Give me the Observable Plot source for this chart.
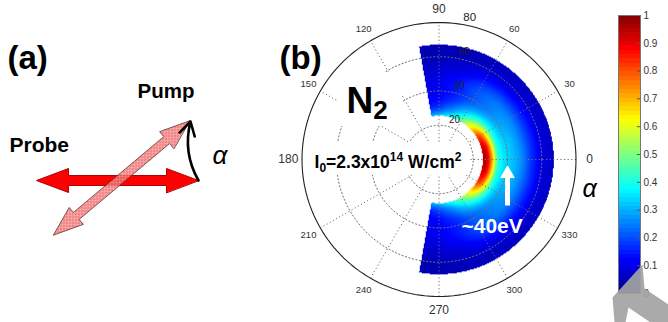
<!DOCTYPE html>
<html><head><meta charset="utf-8">
<script src="https://cdn.jsdelivr.net/npm/d3@7"></script>
<script src="https://cdn.jsdelivr.net/npm/@observablehq/plot@0.6"></script>
<style>
html,body{margin:0;padding:0;background:#fff;}
#wrap{position:relative;width:668px;height:322px;overflow:hidden;background:#fff;}
#wrap svg{position:absolute;top:0;}
</style></head><body><div id="wrap"></div>
<script>
// ---------- data ----------
const energies = [25.5, 27, 29, 31, 33, 35, 38, 41, 44, 47, 50, 54, 58, 62, 67]; // eV (radius)
const angles = [0, 15, 30, 45, 60, 75, 90, 100]; // |alpha| in degrees
const yield0   = [0.93,0.97,0.88,0.72,0.52,0.40,0.35,0.33,0.31,0.28,0.24,0.17,0.12,0.08,0.06];
const yield15  = [0.90,0.94,0.85,0.69,0.50,0.39,0.34,0.32,0.30,0.27,0.23,0.17,0.12,0.08,0.06];
const yield30  = [0.80,0.82,0.74,0.60,0.46,0.37,0.31,0.29,0.28,0.26,0.22,0.16,0.11,0.07,0.05];
const yield45  = [0.64,0.63,0.56,0.47,0.39,0.33,0.27,0.25,0.25,0.24,0.21,0.15,0.10,0.07,0.05];
const yield60  = [0.50,0.46,0.40,0.34,0.30,0.26,0.22,0.21,0.21,0.20,0.18,0.13,0.09,0.06,0.05];
const yield75  = [0.40,0.34,0.28,0.24,0.21,0.18,0.16,0.15,0.15,0.14,0.12,0.09,0.07,0.05,0.04];
const yield90  = [0.34,0.27,0.21,0.17,0.15,0.13,0.12,0.11,0.11,0.10,0.09,0.07,0.05,0.04,0.04];
const yield100 = [0.32,0.25,0.19,0.15,0.13,0.12,0.11,0.10,0.10,0.09,0.08,0.06,0.05,0.04,0.04];
const angleTicks = [0, 30, 60, 90, 120, 150, 180, 210, 240, 270, 300, 330];
const radialTicks = [20, 40, 60, 80];
const colorbarTicks = [0, 0.1, 0.2, 0.3, 0.4, 0.5, 0.6, 0.7, 0.8, 0.9, 1];
const pumpAngle = 40; // alpha between pump and probe polarisations (schematic)
const markerEnergy = 40; // "~40eV"

// ---------- helpers ----------
const rows = [yield0, yield15, yield30, yield45, yield60, yield75, yield90, yield100];
const rMax = 80;
const jet = {type: "linear", domain: [0, 0.125, 0.375, 0.625, 0.875, 1],
  range: ["#00008f", "#0000ff", "#00ffff", "#ffff00", "#ff0000", "#800000"], clamp: true};
function yieldAt(E, th) {
  const a = Math.abs(th), nE = energies.length;
  if (E < energies[0] || E > energies[nE - 1] || a > angles[angles.length - 1]) return NaN;
  let i = Math.max(0, Math.min(angles.length - 2, d3.bisectRight(angles, a) - 1));
  let j = Math.max(0, Math.min(nE - 2, d3.bisectRight(energies, E) - 1));
  const ta = (a - angles[i]) / (angles[i + 1] - angles[i]);
  const te = (E - energies[j]) / (energies[j + 1] - energies[j]);
  const v0 = rows[i][j] * (1 - te) + rows[i][j + 1] * te;
  const v1 = rows[i + 1][j] * (1 - te) + rows[i + 1][j + 1] * te;
  return v0 * (1 - ta) + v1 * ta;
}
const rad = d => d * Math.PI / 180;
const FONT = "Liberation Sans, Arial, Helvetica, sans-serif";

// pixel placement of the polar frame
const k = 137 / rMax, cx = 438.5, cy = 159;
const X = px => (px - cx) / k, Y = py => (cy - py) / k;

function rich(svg, content, parts) {
  d3.select(svg).selectAll("text").filter(function () { return this.textContent === content; })
    .each(function () {
      const el = this; el.textContent = "";
      let prev = 0;
      for (const [t, shift, size] of parts) {
        const ts = document.createElementNS("http://www.w3.org/2000/svg", "tspan");
        ts.textContent = t;
        ts.setAttribute("dy", (shift - prev) + "px");
        if (size) ts.setAttribute("font-size", size + "px");
        prev = shift;
        el.appendChild(ts);
      }
    });
}

// ---------- panel (b): polar map ----------
const circlePts = [];
for (const r of radialTicks) for (let t = 0; t <= 360; t += 2) circlePts.push({r, x: r * Math.cos(rad(t)), y: r * Math.sin(rad(t))});
const spokes = angleTicks.filter(a => a > 0 && a <= 180);

const plotB = Plot.plot({
  width: 668, height: 322, margin: 0,
  x: {domain: [X(0), X(668)], axis: null},
  y: {domain: [Y(322), Y(0)], axis: null},
  color: jet,
  style: {background: "transparent", overflow: "visible"},
  marks: [
    Plot.raster({fill: (x, y) => yieldAt(Math.hypot(x, y), Math.atan2(y, x) * 180 / Math.PI),
      x1: -20, x2: 70, y1: -70, y2: 70, pixelSize: 1, imageRendering: "auto"}),
    Plot.link(spokes, {x1: a => -rMax * Math.cos(rad(a)), y1: a => -rMax * Math.sin(rad(a)),
      x2: a => rMax * Math.cos(rad(a)), y2: a => rMax * Math.sin(rad(a)),
      stroke: "#707070", strokeWidth: 1, strokeDasharray: "1.2,2.4"}),
    Plot.line(circlePts.filter(d => d.r < rMax), {x: "x", y: "y", z: "r", stroke: "#707070", strokeWidth: 1, strokeDasharray: "1.2,2.4"}),
    Plot.line(circlePts.filter(d => d.r === rMax), {x: "x", y: "y", stroke: "#222", strokeWidth: 1.1}),
    // white label boxes
    Plot.rect([{x1: X(337), x2: X(402), y1: Y(126), y2: Y(72)}, {x1: X(304), x2: X(469), y1: Y(175), y2: Y(142)}],
      {x1: "x1", x2: "x2", y1: "y1", y2: "y2", fill: "white"}),
    // angle tick labels
    Plot.text(angleTicks, {x: a => 1.1 * rMax * Math.cos(rad(a)), y: a => 1.1 * rMax * Math.sin(rad(a)),
      text: a => String(a), fontSize: a => (a % 90 === 0 ? 12 : 9.5), fill: "#333", fontFamily: FONT, lineAnchor: "middle"}),
    // radial tick labels
    Plot.text(radialTicks, {x: r => (r + 1) * Math.cos(rad(82)), y: r => (r + 1) * Math.sin(rad(82)),
      text: r => String(r), dx: 5, dy: -1, textAnchor: "start", lineAnchor: "bottom",
      fontSize: r => (r === rMax ? 11.5 : 10), fill: "#222", fontFamily: FONT}),
    // titles
    Plot.text(["(b)"], {x: X(279), y: Y(68), text: d => d, textAnchor: "start", lineAnchor: "bottom", fontSize: 33, fontWeight: "bold", fontFamily: FONT, fill: "black"}),
    Plot.text(["N2"], {x: X(346), y: Y(112), text: d => d, textAnchor: "start", lineAnchor: "bottom", fontSize: 37, fontWeight: "bold", fontFamily: FONT, fill: "black"}),
    Plot.text(["I0=2.3x1014 W/cm2"], {x: X(314), y: Y(167), text: d => d, textAnchor: "start", lineAnchor: "bottom", fontSize: 17.5, fontWeight: "bold", fontFamily: FONT, fill: "black"}),
    // ~40 eV marker
    Plot.link([markerEnergy], {x1: d => d, x2: d => d, y1: Y(205), y2: Y(176), stroke: "white", strokeWidth: 5}),
    Plot.dot([markerEnergy], {x: d => d, y: Y(173.2), symbol: "triangle", r: 5, fill: "white", stroke: "white", strokeWidth: 1}),
    Plot.text(["~" + markerEnergy + "eV"], {x: X(461), y: Y(232), text: d => d, textAnchor: "start", lineAnchor: "bottom", fontSize: 21, fontWeight: "bold", fontFamily: FONT, fill: "white"}),
    Plot.text(["α"], {x: X(582), y: Y(196), text: d => d, textAnchor: "start", lineAnchor: "bottom", fontSize: 25, fontStyle: "italic", fontFamily: FONT, fill: "black"})
  ]
});
rich(plotB, "N2", [["N", 0, 37], ["2", 6, 26]]);
rich(plotB, "I0=2.3x1014 W/cm2", [["I", 0, 17.5], ["0", 4, 12], ["=2.3x10", 0, 17.5], ["14", -7, 12], [" W/cm", 0, 17.5], ["2", -7, 12]]);
plotB.style.left = "0px";
document.getElementById("wrap").appendChild(plotB);

// ---------- panel (a): schematic ----------
function doubleArrow(c, len, angle, shaft, headLen, headHalf) {
  const h = len / 2, local = [[h, 0], [h - headLen, headHalf], [h - headLen, shaft], [-h + headLen, shaft], [-h + headLen, headHalf], [-h, 0],
    [-h + headLen, -headHalf], [-h + headLen, -shaft], [h - headLen, -shaft], [h - headLen, -headHalf]];
  const ca = Math.cos(rad(angle)), sa = Math.sin(rad(angle));
  return local.map(([u, v]) => ({x: c[0] + u * ca - v * sa, y: c[1] - (u * sa + v * ca)}));
}
const probePts = doubleArrow([117, 180], 162, 0, 5, 32, 12);
const pumpPts = doubleArrow([121, 177.5], 178, pumpAngle, 4.5, 30, 11);
const plotA = Plot.plot({
  width: 260, height: 322, margin: 0,
  x: {domain: [0, 260], axis: null},
  y: {domain: [322, 0], axis: null},
  style: {background: "transparent", overflow: "visible"},
  marks: [
    Plot.line(probePts, {x: "x", y: "y", fill: "#ff0000", stroke: "#b00000", strokeWidth: 1, curve: "linear-closed"}),
    Plot.line(pumpPts, {x: "x", y: "y", fill: "url(#hatch)", fillOpacity: 0.82, stroke: "#5a3030", strokeWidth: 0.8, curve: "linear-closed"}),
    Plot.arrow([{x1: 198, y1: 180, x2: 190, y2: 121}], {x1: "x1", y1: "y1", x2: "x2", y2: "y2", bend: 22, stroke: "black", strokeWidth: 2.6, headLength: 9}),
    Plot.text(["(a)"], {x: 7, y: 68, text: d => d, textAnchor: "start", lineAnchor: "bottom", fontSize: 33, fontWeight: "bold", fontFamily: FONT, fill: "black"}),
    Plot.text(["Pump"], {x: 137, y: 97, text: d => d, textAnchor: "start", lineAnchor: "bottom", fontSize: 20.5, fontWeight: "bold", fontFamily: FONT, fill: "black"}),
    Plot.text(["Probe"], {x: 9, y: 151, text: d => d, textAnchor: "start", lineAnchor: "bottom", fontSize: 21, fontWeight: "bold", fontFamily: FONT, fill: "black"}),
    Plot.text(["α"], {x: 212, y: 163, text: d => d, textAnchor: "start", lineAnchor: "bottom", fontSize: 26, fontStyle: "italic", fontFamily: FONT, fill: "black"})
  ]
});
{
  const defs = d3.select(plotA).insert("defs", ":first-child");
  const pat = defs.append("pattern").attr("id", "hatch").attr("width", 3).attr("height", 3).attr("patternUnits", "userSpaceOnUse");
  pat.append("rect").attr("width", 3).attr("height", 3).attr("fill", "#ffa4a4");
  pat.append("path").attr("d", "M0,0.5H3M0.5,0V3").attr("stroke", "#e25050").attr("stroke-width", 0.8);
}
plotA.style.left = "0px";
document.getElementById("wrap").appendChild(plotA);

// ---------- colour bar ----------
const bands = d3.range(64);
const plotC = Plot.plot({
  width: 68, height: 322, marginLeft: 18, marginRight: 28, marginTop: 15, marginBottom: 29,
  x: {domain: [0, 1], axis: null},
  y: {domain: [0, 1], axis: null},
  color: jet,
  style: {background: "transparent", overflow: "visible"},
  marks: [
    Plot.rect(bands, {x1: 0, x2: 1, y1: d => d / 64, y2: d => (d + 1) / 64, fill: d => (d + 0.5) / 64, shapeRendering: "crispEdges"}),
    Plot.ruleY(colorbarTicks.slice(1, -1), {x1: 0.86, x2: 1, stroke: "#555", strokeWidth: 1}),
    Plot.frame({stroke: "#777", strokeWidth: 1}),
    Plot.axisY(colorbarTicks, {anchor: "right", tickSize: 0, tickPadding: 3, tickFormat: d => String(+d.toFixed(1)), fontSize: 10, fill: "#333", fontFamily: FONT, label: null})
  ]
});
plotC.style.left = "600px";
document.getElementById("wrap").appendChild(plotC);

// ---------- grey pointer shape drawn over the corner ----------
const plotD = Plot.plot({
  width: 668, height: 322, margin: 0,
  x: {domain: [X(0), X(668)], axis: null},
  y: {domain: [Y(322), Y(0)], axis: null},
  style: {background: "transparent", overflow: "visible"},
  marks: [
    Plot.line([[612,297],[642,264],[644,288],[668,304],[668,322],[650,322],[628,307],[625,322],[614,322],[612,297]].map(([a, b]) => ({x: X(a), y: Y(b)})),
      {x: "x", y: "y", fill: "#a3a3a3", fillOpacity: 0.92, stroke: "none", curve: "linear-closed"})
  ]
});
plotD.style.left = "0px";
plotD.style.pointerEvents = "none";
document.getElementById("wrap").appendChild(plotD);
</script></body></html>
